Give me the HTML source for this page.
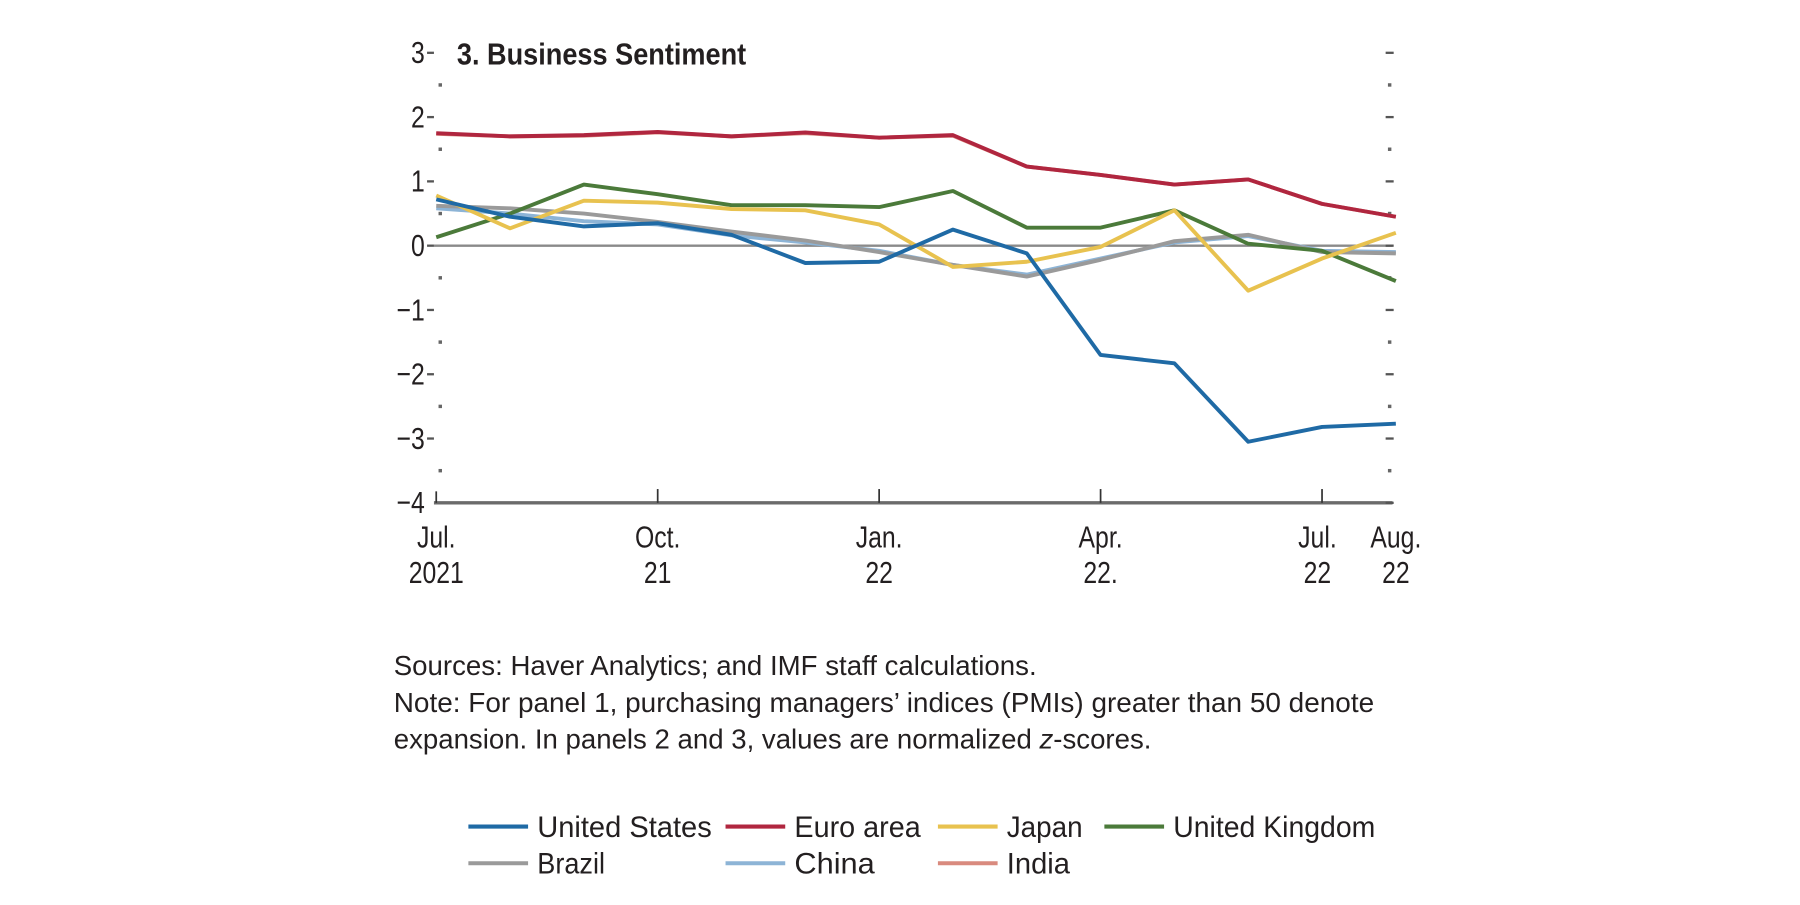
<!DOCTYPE html>
<html><head><meta charset="utf-8"><style>
body{margin:0;background:#fff;}
svg text{font-family:"Liberation Sans Narrow","Liberation Sans",sans-serif;fill:#231f20;}
</style></head><body>
<svg id="chart" width="1800" height="900" viewBox="0 0 1800 900" xmlns="http://www.w3.org/2000/svg">
<g transform="scale(1.148)">
<g id="axes"></g><g id="series"></g><g id="labels"></g>
<text x="398" y="56" font-size="27" font-weight="bold" textLength="252" lengthAdjust="spacingAndGlyphs">3. Business Sentiment</text>
<g font-size="24">
<text x="343" y="588" textLength="560" lengthAdjust="spacingAndGlyphs">Sources: Haver Analytics; and IMF staff calculations.</text>
<text x="343" y="620" textLength="854" lengthAdjust="spacingAndGlyphs">Note: For panel 1, purchasing managers’ indices (PMIs) greater than 50 denote</text>
<text x="343" y="652" textLength="660" lengthAdjust="spacingAndGlyphs">expansion. In panels 2 and 3, values are normalized <tspan font-style="italic">z</tspan>-scores.</text>
</g>
<g id="legend" font-size="26"></g>
</g>
</svg>
<script>
const months = ["Jul21","Aug21","Sep21","Oct21","Nov21","Dec21","Jan22","Feb22","Mar22","Apr22","May22","Jun22","Jul22","Aug22"];
const yTicks = [3,2,1,0,-1,-2,-3,-4];
const yTickLabels = ["3","2","1","0","\u22121","\u22122","\u22123","\u22124"];
const xTickIdx = [0,3,6,9,12,13];
const xTickLine1 = ["Jul.","Oct.","Jan.","Apr.","Jul.","Aug."];
const xTickLine2 = ["2021","21","22","22.","22","22"];
const seriesNames = ["India","China","Brazil","Euro area","United Kingdom","Japan","United States"];
const seriesColors = ["#d98a7e","#8db4d6","#9a9a9a","#b0263f","#4b7a3a","#e8c24f","#1f6aa5"];
const india = [1.74,1.7,1.71,1.76,1.7,1.75,1.68,1.71,1.23,1.1,0.95,1.03,0.65,0.45];
const china = [0.58,0.5,0.38,0.33,0.16,0.05,-0.08,-0.3,-0.45,-0.2,0.05,0.15,-0.08,-0.1];
const brazil = [0.62,0.58,0.5,0.37,0.22,0.08,-0.1,-0.3,-0.48,-0.22,0.07,0.17,-0.1,-0.12];
const euro = [1.75,1.7,1.72,1.77,1.7,1.76,1.68,1.72,1.23,1.1,0.95,1.03,0.65,0.45];
const uk = [0.13,0.5,0.95,0.8,0.63,0.63,0.6,0.85,0.28,0.28,0.55,0.03,-0.08,-0.55];
const japan = [0.78,0.27,0.7,0.67,0.57,0.55,0.33,-0.33,-0.25,-0.02,0.55,-0.7,-0.2,0.2];
const us = [0.72,0.45,0.3,0.35,0.17,-0.27,-0.25,0.25,-0.12,-1.7,-1.83,-3.05,-2.82,-2.77];
const seriesValues = [india,china,brazil,euro,uk,japan,us];

const NS="http://www.w3.org/2000/svg";
const X0=380, DX=64.3, Y0=214, DY=56;
const xs=i=>X0+i*DX, ys=v=>Y0-v*DY;
function mk(t,a,p){const e=document.createElementNS(NS,t);for(const k in a)e.setAttribute(k,a[k]);p.appendChild(e);return e;}
function narrow(t,f){const w=t.getComputedTextLength();t.setAttribute('textLength',(w*f).toFixed(1));t.setAttribute('lengthAdjust','spacingAndGlyphs');}
const ax=document.getElementById('axes'), sg=document.getElementById('series'), lb=document.getElementById('labels');
let z=mk('line',{x1:378,x2:1213,y1:ys(0),y2:ys(0),stroke:'#8a8a8a','stroke-width':2},ax);


let b=mk('line',{x1:378,x2:1213,y1:ys(-4),y2:ys(-4),stroke:'#6b6b6b','stroke-width':3},ax);


mk('line',{x1:380,x2:380,y1:ys(-4)-10,y2:ys(-4),stroke:'#333','stroke-width':1.5},ax);
yTicks.forEach((v,k)=>{
  const t=mk('text',{x:370,y:ys(v)+9,'font-size':27,'text-anchor':'end'},lb);
  t.textContent=yTickLabels[k];
  
  
  narrow(t,0.8);
  if(v>-4){mk('line',{x1:372,x2:378,y1:ys(v),y2:ys(v),stroke:'#555','stroke-width':2},ax);}
  mk('line',{x1:1207,x2:1214,y1:ys(v),y2:ys(v),stroke:'#555','stroke-width':2},ax);
  if(v>-4){mk('rect',{x:382,y:ys(v-0.5)-1.5,width:3,height:3,fill:'#666'},ax);
  mk('rect',{x:1209,y:ys(v-0.5)-1.5,width:3,height:3,fill:'#666'},ax);}
});
xTickIdx.forEach((i,k)=>{
  if(k>0&&k<5) mk('line',{x1:xs(i),x2:xs(i),y1:ys(-4)-12,y2:ys(-4),stroke:'#333','stroke-width':1.5},ax);
  const t1=mk('text',{x:xs(i)-(k==4?4:0),y:477,'font-size':27,'text-anchor':'middle'},lb);
  t1.textContent=xTickLine1[k];
  
  
  narrow(t1,0.8);
  const t2=mk('text',{x:xs(i)-(k==4?4:0),y:508,'font-size':27,'text-anchor':'middle'},lb);
  t2.textContent=xTickLine2[k];
  
  
  narrow(t2,0.8);
});
seriesValues.forEach((vals,s)=>{
  const d=vals.map((v,i)=>(i?'L':'M')+xs(i).toFixed(1)+','+ys(v).toFixed(1)).join(' ');
  const p=mk('path',{d:d,fill:'none',stroke:seriesColors[s],'stroke-width':3.4,'stroke-linejoin':'round'},sg);
  
  
});
const lg=document.getElementById('legend');
const legOrder=[6,3,5,4,2,1,0];
const legPos=[[408,720],[632,720],[817,720],[962,720],[408,752],[632,752],[817,752]];
const legW=[152,110,66,176,59,70,55];
legOrder.forEach((s,k)=>{
  const [x,y]=legPos[k];
  const w=52;
  const g=mk('g',{},lg);
  
  
  mk('line',{x1:x,x2:x+w,y1:y,y2:y,stroke:seriesColors[s],'stroke-width':3.5},g);
  const t=mk('text',{x:x+w+8,y:y+9,'font-size':26,textLength:legW[k],lengthAdjust:'spacingAndGlyphs'},g);
  t.textContent=seriesNames[s];
});
</script>
</body></html>
